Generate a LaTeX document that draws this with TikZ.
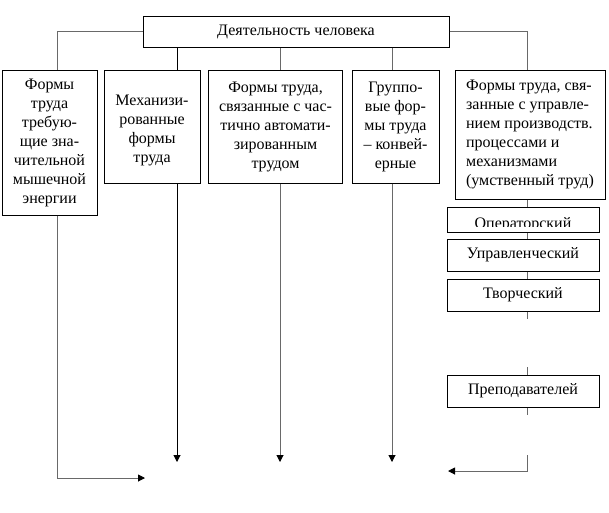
\documentclass[tikz,border=0pt]{standalone}
\usepackage{fontspec}
\setmainfont{Liberation Serif}
\usetikzlibrary{arrows.meta, positioning, calc}
\definecolor{linegray}{RGB}{105,105,105}
\tikzset{
	block/.style={rectangle, draw, line width=1pt, align=center, inner sep=2pt, font=\fontsize{16}{19}\selectfont},
	line/.style={draw=linegray, line width=1pt},
	arrline/.style={line, -{Triangle[length=7pt, width=7pt, color=black]}}
}

\begin{document}
\begin{tikzpicture}[x=1pt, y=-1pt]
	\useasboundingbox (0,0) rectangle (609,512);
	% Top box
	\node[block, minimum width=306, minimum height=31] (act) at (296,31.5) {Деятельность человека};
	
	% Forms of labour
	\node[block, minimum width=95, minimum height=145] (muscle) at (49.5,142.5) {Формы\\труда\\требую-\\щие зна-\\чительной\\мышечной\\энергии};
	\node[block, minimum width=96, minimum height=113] (mech) at (152,126.5) {\mbox{}\\Механизи-\\рованные\\формы\\труда};
	\node[block, minimum width=134, minimum height=113] (auto) at (275.5,126.5) {Формы труда,\\связанные с час-\\тично автомати-\\зированным\\трудом};
	\node[block, minimum width=87, minimum height=113] (conv) at (395.5,126.5) {Группо-\\вые фор-\\мы труда\\– конвей-\\ерные};
	\node[block, align=left, minimum width=150, minimum height=129] (mental) at (530,134.5) {Формы труда, свя-\\занные с управле-\\нием производств.\\процессами и\\механизмами\\(умственный труд)};
	
	% Kinds of mental labour
	\node[block, minimum width=152, minimum height=25, path picture={
		\clip ([yshift=6pt]path picture bounding box.south west) rectangle (path picture bounding box.north east);
		\node[anchor=base, inner sep=0pt, font=\fontsize{16}{19}\selectfont] at ([yshift=4pt]path picture bounding box.south) {Операторский};
	}] (oper) at (523,219.5) {};
	\node[block, minimum width=152, minimum height=32] (manag) at (523,255) {Управленческий};
	\node[block, minimum width=152, minimum height=32] (creat) at (523,295) {Творческий};
	\node[block, minimum width=152, minimum height=32] (teach) at (523,391) {Преподавателей};
	
	% Columns and ends of the connectors
	\coordinate (c1) at (57,0);
	\coordinate (c2) at (177,0);
	\coordinate (c3) at (280,0);
	\coordinate (c4) at (392,0);
	\coordinate (c5) at (527,0);
	\coordinate (e1) at (145,478);
	\coordinate (e2) at (177,462);
	\coordinate (e3) at (280,462);
	\coordinate (e4) at (392,462);
	\coordinate (s1) at (527,319);
	\coordinate (s2) at (527,367);
	\coordinate (s3) at (527,415);
	\coordinate (s4) at (527,455);
	\coordinate (e5) at (448,471);
	
	% Connectors from the top box
	\draw[line] (act.west) -| (c1 |- muscle.north);
	\draw[line] (act.east) -| (c5 |- mental.north);
	\draw[line, draw=black] (act.south -| c2) -- (mech.north -| c2);
	\draw[line] (act.south -| c3) -- (auto.north -| c3);
	\draw[line] (act.south -| c4) -- (conv.north -| c4);
	
	% Arrows down
	\draw[arrline] (muscle.south -| c1) |- (e1);
	\draw[arrline, draw=black] (mech.south -| c2) -- (e2);
	\draw[arrline] (auto.south -| c3) -- (e3);
	\draw[arrline] (conv.south -| c4) -- (e4);
	
	% Right column
	\draw[line] (mental.south -| c5) -- (oper.north -| c5);
	\draw[line] (oper.south -| c5) -- (manag.north -| c5);
	\draw[line] (manag.south -| c5) -- (creat.north -| c5);
	\draw[line] (creat.south -| c5) -- (s1);
	\draw[line] (s2) -- (teach.north -| c5);
	\draw[line] (teach.south -| c5) -- (s3);
	\draw[arrline] (s4) |- (e5);
\end{tikzpicture}
\end{document}
